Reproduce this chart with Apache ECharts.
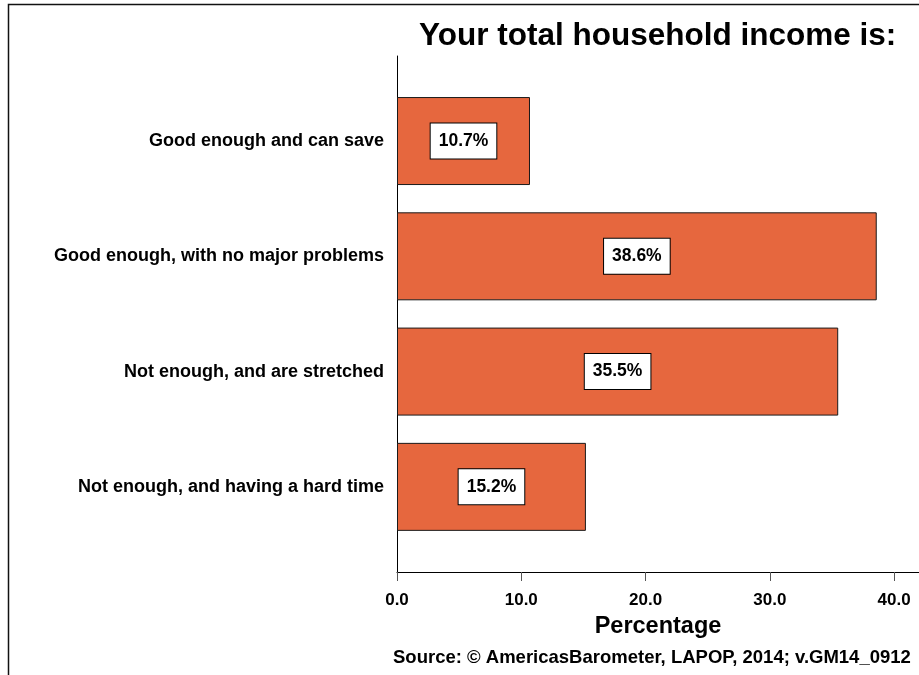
<!DOCTYPE html>
<html>
<head>
<meta charset="utf-8">
<script src="https://cdn.jsdelivr.net/npm/echarts@6/dist/echarts.min.js"></script>
<style>html,body{margin:0;padding:0;background:#fff}#c{width:919px;height:675px}</style>
</head>
<body>
<div id="c"></div>
<script>
const categories = ["Good enough and can save", "Good enough, with no major problems", "Not enough, and are stretched", "Not enough, and having a hard time"];
const values = [10.7, 38.6, 35.5, 15.2];
const xTicks = [0, 10, 20, 30, 40];
const titleText = "Your total household income is:";
const axisName = "Percentage";
const sourceText = "Source: \u00A9 AmericasBarometer, LAPOP, 2014; v.GM14_0912";

const FONT = '"Liberation Sans", Arial, sans-serif';
const chart = echarts.init(document.getElementById('c'), null, {renderer: 'canvas'});
chart.setOption({
  animation: false,
  backgroundColor: '#fff',
  title: [
    {text: titleText, left: 414, top: 15,
     textStyle: {fontFamily: FONT, fontSize: 31.5, fontWeight: 'bold', color: '#000'}},
    {text: sourceText, left: 388, top: 643,
     textStyle: {fontFamily: FONT, fontSize: 18.5, fontWeight: 'bold', color: '#000'}}
  ],
  graphic: [
    {type: 'polyline', shape: {points: [[8.5, 700], [8.5, 4.5], [930, 4.5]]},
     style: {stroke: '#111', lineWidth: 1.5, fill: null}, silent: true}
  ],
  grid: [
    {left: 397, right: 0, top: 56, bottom: 103},
    {left: 397, right: 0, top: 83.4, bottom: 130.5}
  ],
  xAxis: [
    {type: 'value', gridIndex: 0, min: 0, max: 42,
     axisLine: {show: true, lineStyle: {color: '#000', width: 1}},
     axisTick: {show: true, length: 9, customValues: xTicks, lineStyle: {color: '#555', width: 1}},
     axisLabel: {customValues: xTicks, margin: 20, formatter: v => v.toFixed(1),
       fontFamily: FONT, fontSize: 17, fontWeight: 'bold', color: '#000'},
     splitLine: {show: false},
     name: axisName, nameLocation: 'middle', nameGap: 43,
     nameTextStyle: {fontFamily: FONT, fontSize: 23.5, fontWeight: 'bold', color: '#000'}},
    {type: 'value', gridIndex: 1, min: 0, max: 42, show: false}
  ],
  yAxis: [
    {type: 'value', gridIndex: 0, min: 0, max: 1,
     axisLine: {show: true, onZero: false, lineStyle: {color: '#000', width: 1}},
     axisTick: {show: false}, axisLabel: {show: false}, splitLine: {show: false}},
    {type: 'category', gridIndex: 1, data: categories, inverse: true,
     axisLine: {show: false}, axisTick: {show: false},
     axisLabel: {margin: 13, fontFamily: FONT, fontSize: 18, fontWeight: 'bold', color: '#000'}}
  ],
  series: [{
    type: 'bar', xAxisIndex: 1, yAxisIndex: 1, data: values, barWidth: 88,
    itemStyle: {color: '#E6673E', borderColor: '#1a1a1a', borderWidth: 1},
    label: {show: true, position: 'inside', formatter: p => p.value.toFixed(1) + '%',
      fontFamily: FONT, fontSize: 17.5, fontWeight: 'bold', color: '#000',
      backgroundColor: '#fff', borderColor: '#000', borderWidth: 1, padding: [9, 8, 8, 8]}
  }]
});
</script>
</body>
</html>
